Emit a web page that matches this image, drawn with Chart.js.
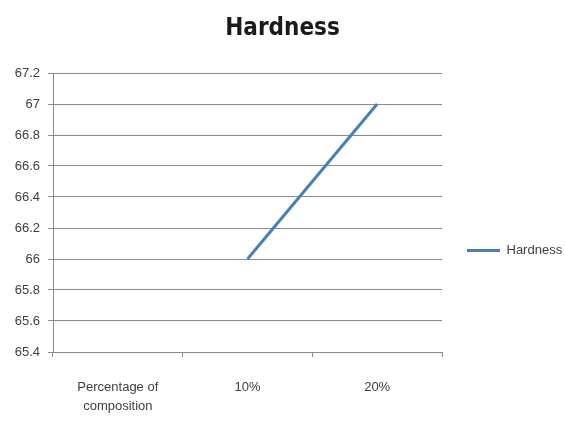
<!DOCTYPE html>
<html>
<head>
<meta charset="utf-8">
<script src="https://cdn.jsdelivr.net/npm/chart.js@4/dist/chart.umd.min.js"></script>
<style>
  body { margin: 0; background: #fff; }
</style>
</head>
<body>
<canvas id="line-chart" width="565" height="423"></canvas>
<script>
// categories and values
const categorias = [["Percentage of", "composition"], "10%", "20%"];
const hardness = [null, 66, 67];
const yMin = 65.4;
const yMax = 67.2;
const yStep = 0.2;

const fonte = "'Liberation Sans', Arial, sans-serif";
const fonteTitulo = "'DejaVu Sans Condensed', 'Liberation Sans Narrow', Arial, sans-serif";

// keeps the legend column a fixed width and lowers it a bit
const ajustaLegenda = {
    id: "ajustaLegenda",
    beforeInit(chart){
        const legend = chart.legend;
        const fitOrig = legend.fit;
        legend.fit = function(){
            fitOrig.call(this);
            this.width = 123;
        };
    },
    afterLayout(chart){
        chart.legend.top += 39;
        chart.legend.bottom += 39;
    }
};

new Chart(document.getElementById("line-chart"), {
    type: 'line',
    data: {
        labels: categorias,
        datasets: [
            {
                label: "Hardness",
                data: hardness,
                borderColor: "#4A7EBB",
                backgroundColor: "#4A7EBB",
                borderWidth: 3,
                pointRadius: 0,
                pointHoverRadius: 0,
                tension: 0
            }
        ]
    },
    options: {
        responsive: false,
        animation: false,
        layout: { padding: { left: 0, right: 0, top: 0, bottom: 0 } },
        plugins: {
            title: {
                display: true,
                text: 'Hardness',
                color: '#1a1a1a',
                font: { family: fonteTitulo, size: 24, weight: 'bold' },
                padding: { top: 14, bottom: 30.2 }
            },
            legend: {
                position: 'right',
                align: 'center',
                labels: {
                    usePointStyle: true,
                    pointStyle: 'line',
                    pointStyleWidth: 33,
                    padding: 25,
                    color: '#404040',
                    font: { family: fonte, size: 13 }
                }
            },
            tooltip: { enabled: false }
        },
        scales: {
            x: {
                offset: true,
                grid: {
                    offset: true,
                    drawOnChartArea: false,
                    drawTicks: true,
                    tickLength: 5,
                    color: '#8a8a8a'
                },
                border: { color: '#8a8a8a', width: 1 },
                ticks: {
                    padding: 21,
                    maxRotation: 0,
                    autoSkip: false,
                    color: '#404040',
                    font: { family: fonte, size: 13, lineHeight: 1.45 }
                },
                afterFit(scale){ scale.height = 71; }
            },
            y: {
                min: yMin,
                max: yMax,
                grid: {
                    color: '#8a8a8a',
                    tickLength: 5
                },
                border: { color: '#8a8a8a', width: 1 },
                ticks: {
                    stepSize: yStep,
                    padding: 8,
                    color: '#404040',
                    font: { family: fonte, size: 13 },
                    callback: function(v){ return String(Number(v.toFixed(1))); }
                },
                afterFit(scale){ scale.width = 53; }
            }
        }
    },
    plugins: [ajustaLegenda]
});
</script>
</body>
</html>
